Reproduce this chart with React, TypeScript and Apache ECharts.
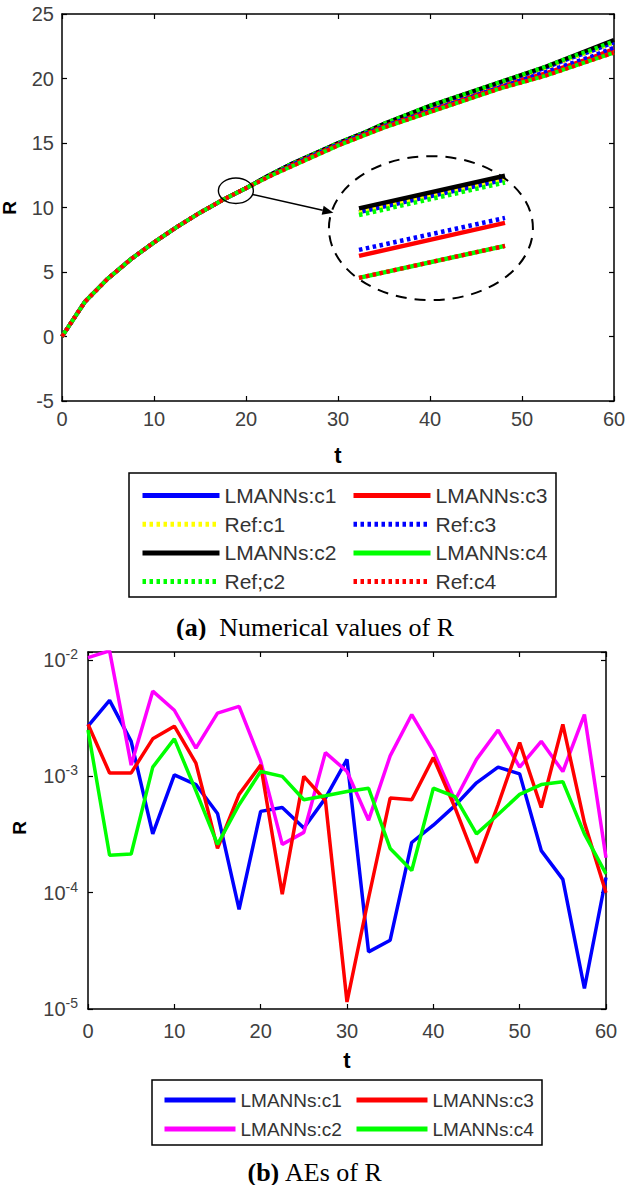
import React, { useEffect, useRef } from "react";
import * as echarts from "echarts";

// ---------- data: panel (a) numerical values of R ----------
const tTop = [0, 2.5, 5, 7.5, 10, 12.5, 15, 17.5, 20, 22.5, 25, 27.5, 30, 32.5, 35, 37.5, 40, 42.5, 45, 47.5, 50, 52.5, 55, 57.5, 60];
const lmC1 = [0, 2.7, 4.5, 6.0, 7.3, 8.5, 9.6, 10.6, 11.5, 12.5, 13.4, 14.2, 15.0, 15.7, 16.4, 17.1, 17.8, 18.4, 19.0, 19.6, 20.2, 20.8, 21.5, 22.1, 22.8];
const refC1 = [0, 2.7, 4.5, 6.0, 7.3, 8.5, 9.6, 10.6, 11.5, 12.5, 13.4, 14.2, 15.0, 15.7, 16.4, 17.1, 17.8, 18.4, 19.0, 19.6, 20.2, 20.8, 21.5, 22.1, 22.8];
const lmC2 = [0, 2.7, 4.5, 6.0, 7.3, 8.5, 9.6, 10.6, 11.5, 12.5, 13.4, 14.2, 15.0, 15.7, 16.5, 17.2, 17.9, 18.5, 19.1, 19.7, 20.3, 20.9, 21.6, 22.3, 23.0];
const refC2 = [0, 2.7, 4.5, 6.0, 7.3, 8.5, 9.6, 10.6, 11.5, 12.5, 13.4, 14.2, 15.0, 15.7, 16.5, 17.2, 17.9, 18.5, 19.1, 19.7, 20.3, 20.9, 21.6, 22.2, 22.9];
const lmC3 = [0, 2.7, 4.5, 6.0, 7.3, 8.5, 9.6, 10.6, 11.5, 12.4, 13.3, 14.1, 14.9, 15.6, 16.3, 16.9, 17.5, 18.1, 18.7, 19.3, 19.9, 20.4, 21.0, 21.6, 22.3];
const refC3 = [0, 2.7, 4.5, 6.0, 7.3, 8.5, 9.6, 10.6, 11.5, 12.4, 13.3, 14.1, 14.9, 15.6, 16.3, 16.9, 17.5, 18.1, 18.7, 19.3, 19.9, 20.5, 21.1, 21.7, 22.4];
const lmC4 = [0, 2.7, 4.5, 6.0, 7.3, 8.5, 9.6, 10.6, 11.5, 12.4, 13.2, 14.0, 14.8, 15.5, 16.2, 16.8, 17.4, 18.0, 18.6, 19.2, 19.7, 20.2, 20.8, 21.4, 22.0];
const refC4 = [0, 2.7, 4.5, 6.0, 7.3, 8.5, 9.6, 10.6, 11.5, 12.4, 13.2, 14.0, 14.8, 15.5, 16.2, 16.8, 17.4, 18.0, 18.6, 19.2, 19.7, 20.2, 20.8, 21.4, 22.0];

// zoomed inset (around t ~ 19)
const insetT = [18.7, 19.3];
const insetLmC1 = [11.18, 11.35];
const insetRefC1 = [11.18, 11.35];
const insetLmC2 = [11.2, 11.37];
const insetRefC2 = [11.165, 11.335];
const insetLmC3 = [10.952, 11.124];
const insetRefC3 = [10.983, 11.15];
const insetLmC4 = [10.837, 11.004];
const insetRefC4 = [10.837, 11.004];

// ---------- data: panel (b) absolute errors of R ----------
const tBottom = [0, 2.5, 5, 7.5, 10, 12.5, 15, 17.5, 20, 22.5, 25, 27.5, 30, 32.5, 35, 37.5, 40, 42.5, 45, 47.5, 50, 52.5, 55, 57.5, 60];
const aeC1 = [2.7e-3, 4.5e-3, 2.0e-3, 3.2e-4, 1.03e-3, 8.5e-4, 4.8e-4, 7.2e-5, 5.0e-4, 5.4e-4, 3.6e-4, 6.5e-4, 1.4e-3, 3.1e-5, 3.9e-5, 2.7e-4, 3.8e-4, 5.6e-4, 8.8e-4, 1.2e-3, 1.05e-3, 2.3e-4, 1.3e-4, 1.5e-5, 1.35e-4];
const aeC2 = [1.05e-2, 1.2e-2, 1.25e-3, 5.4e-3, 3.7e-3, 1.75e-3, 3.5e-3, 4.0e-3, 1.35e-3, 2.6e-4, 3.3e-4, 1.6e-3, 1.1e-3, 4.2e-4, 1.5e-3, 3.4e-3, 1.65e-3, 6.2e-4, 1.4e-3, 2.5e-3, 1.2e-3, 2.0e-3, 1.1e-3, 3.4e-3, 2.0e-4];
const aeC3 = [2.8e-3, 1.07e-3, 1.07e-3, 2.1e-3, 2.7e-3, 1.3e-3, 2.4e-4, 7.0e-4, 1.25e-3, 9.7e-5, 1.0e-3, 6.2e-4, 1.15e-5, 9.0e-5, 6.5e-4, 6.3e-4, 1.45e-3, 5.4e-4, 1.8e-4, 5.7e-4, 1.95e-3, 5.4e-4, 2.8e-3, 4.0e-4, 1.0e-4];
const aeC4 = [2.5e-3, 2.1e-4, 2.15e-4, 1.2e-3, 2.1e-3, 7.5e-4, 2.6e-4, 5.7e-4, 1.1e-3, 1.0e-3, 6.3e-4, 6.8e-4, 7.4e-4, 7.9e-4, 2.4e-4, 1.55e-4, 7.9e-4, 6.7e-4, 3.2e-4, 4.7e-4, 7.0e-4, 8.5e-4, 9.0e-4, 3.2e-4, 1.45e-4];

const SANS = "Liberation Sans, Arial, Helvetica, sans-serif";
const SERIF = "Liberation Serif, Times New Roman, serif";
const TICK_COLOR = "#404040";

const pairs = (t: number[], v: number[]) => t.map((x, i) => [x, v[i]]);

const axisLine = { show: true, onZero: false, lineStyle: { color: "#000", width: 1.5 } };
const tickIn = { show: true, inside: true, length: 5, lineStyle: { color: "#000", width: 1.2 } };

function lineSeries(name: string, color: string, t: number[], v: number[], dotted: boolean, xi: number, yi: number, width: number) {
  return {
    type: "line",
    name,
    data: pairs(t, v),
    xAxisIndex: xi,
    yAxisIndex: yi,
    symbol: "none",
    showSymbol: false,
    clip: true,
    lineStyle: { color, width, type: dotted ? [3.5, 3.5] : "solid", cap: "butt" },
    itemStyle: { color },
    emphasis: { disabled: true },
  };
}

function TopChart() {
  const ref = useRef<HTMLDivElement>(null);
  useEffect(() => {
    const chart = echarts.init(ref.current!, null, { renderer: "svg" });
    const W = 4;
    const series = [
      lineSeries("LMANNs:c1", "#0000ff", tTop, lmC1, false, 0, 0, W),
      lineSeries("Ref:c1", "#ffff00", tTop, refC1, true, 0, 0, W),
      lineSeries("LMANNs:c2", "#000000", tTop, lmC2, false, 0, 0, W),
      lineSeries("Ref;c2", "#00ff00", tTop, refC2, true, 0, 0, W),
      lineSeries("LMANNs:c3", "#ff0000", tTop, lmC3, false, 0, 0, W),
      lineSeries("Ref:c3", "#0000ff", tTop, refC3, true, 0, 0, W),
      lineSeries("LMANNs:c4", "#00ff00", tTop, lmC4, false, 0, 0, W),
      lineSeries("Ref:c4", "#ff0000", tTop, refC4, true, 0, 0, W),
      lineSeries("LMANNs:c1", "#0000ff", insetT, insetLmC1, false, 2, 2, 4.5),
      lineSeries("Ref:c1", "#ffff00", insetT, insetRefC1, true, 2, 2, 4.5),
      lineSeries("LMANNs:c2", "#000000", insetT, insetLmC2, false, 2, 2, 4.5),
      lineSeries("Ref;c2", "#00ff00", insetT, insetRefC2, true, 2, 2, 4.5),
      lineSeries("LMANNs:c3", "#ff0000", insetT, insetLmC3, false, 2, 2, 4.5),
      lineSeries("Ref:c3", "#0000ff", insetT, insetRefC3, true, 2, 2, 4.5),
      lineSeries("LMANNs:c4", "#00ff00", insetT, insetLmC4, false, 2, 2, 4.5),
      lineSeries("Ref:c4", "#ff0000", insetT, insetRefC4, true, 2, 2, 4.5),
    ];
    const legendCommon = {
      orient: "vertical",
      top: 485,
      padding: 0,
      itemWidth: 77,
      itemHeight: 20,
      itemGap: 7.7,
      selectedMode: false,
      lineStyle: { width: 5 },
      itemStyle: { opacity: 0 },
      textStyle: { fontFamily: SANS, fontSize: 21, color: "#333", lineHeight: 20 },
    };
    chart.setOption({
      animation: false,
      backgroundColor: "#fff",
      grid: [
        { left: 62, top: 14, width: 552, height: 387 },
        { left: 359, top: 170, width: 146, height: 115 },
      ],
      xAxis: [
        { type: "value", gridIndex: 0, min: 0, max: 60, interval: 10, axisLine, axisTick: tickIn, splitLine: { show: false },
          axisLabel: { color: TICK_COLOR, fontSize: 20, fontFamily: SANS, margin: 8 } },
        { type: "value", gridIndex: 0, position: "top", min: 0, max: 60, interval: 10, axisLine, axisTick: tickIn, splitLine: { show: false }, axisLabel: { show: false } },
        { type: "value", gridIndex: 1, min: insetT[0], max: insetT[1], show: false },
      ],
      yAxis: [
        { type: "value", gridIndex: 0, min: -5, max: 25, interval: 5, axisLine, axisTick: tickIn, splitLine: { show: false },
          axisLabel: { color: TICK_COLOR, fontSize: 20, fontFamily: SANS, margin: 8 } },
        { type: "value", gridIndex: 0, position: "right", min: -5, max: 25, interval: 5, axisLine, axisTick: tickIn, splitLine: { show: false }, axisLabel: { show: false } },
        { type: "value", gridIndex: 1, min: 10.8, max: 11.4, show: false },
      ],
      legend: [
        { ...legendCommon, left: 140, data: ["LMANNs:c1", "Ref:c1", "LMANNs:c2", "Ref;c2"] },
        { ...legendCommon, left: 351, data: ["LMANNs:c3", "Ref:c3", "LMANNs:c4", "Ref:c4"] },
      ],
      series,
    });

    const c = chart.convertToPixel({ gridIndex: 0 }, [18.9, 11.3]) as number[];
    const e = chart.convertToPixel({ gridIndex: 0 }, [29.5, 9.6]) as number[];
    const b = chart.convertToPixel({ gridIndex: 0 }, [40.1, 8.4]) as number[];
    const srx = 17.5, sry = 12.7;
    const ang = Math.atan2(e[1] - c[1], e[0] - c[0]);
    const ux = Math.cos(ang), uy = Math.sin(ang);
    const k = 1 / Math.sqrt((ux / srx) ** 2 + (uy / sry) ** 2);
    const s = [c[0] + k * ux, c[1] + k * uy];
    const headLen = 11, headW = 4.5;
    const base = [e[0] - ux * headLen, e[1] - uy * headLen];

    chart.setOption({
      graphic: [
        { type: "ellipse", z: 100, shape: { cx: c[0], cy: c[1], rx: srx, ry: sry }, style: { fill: "none", stroke: "#000", lineWidth: 1.4 } },
        { type: "line", z: 100, shape: { x1: s[0], y1: s[1], x2: base[0], y2: base[1] }, style: { stroke: "#000", lineWidth: 1.6 } },
        { type: "polygon", z: 100, shape: { points: [[e[0], e[1]], [base[0] - uy * headW, base[1] + ux * headW], [base[0] + uy * headW, base[1] - ux * headW]] }, style: { fill: "#000" } },
        { type: "ellipse", z: 100, shape: { cx: b[0], cy: b[1], rx: 102, ry: 72 }, style: { fill: "none", stroke: "#000", lineWidth: 2, lineDash: [11, 8] } },
        { type: "rect", z: 100, shape: { x: 129, y: 473, width: 427, height: 124 }, style: { fill: "none", stroke: "#000", lineWidth: 1.5 } },
        { type: "text", z: 100, x: 9, y: 208, rotation: Math.PI / 2, style: { text: "R", fontFamily: SANS, fontWeight: "bold", fontSize: 19, fill: "#000", align: "center", verticalAlign: "middle" } },
        { type: "text", z: 100, x: 338, y: 455, style: { text: "t", fontFamily: SANS, fontWeight: "bold", fontSize: 22, fill: "#000", align: "center", verticalAlign: "middle" } },
        { type: "text", z: 100, x: 315, y: 627, style: {
          text: "{b|(a)}  Numerical values of R", fontFamily: SERIF, fontSize: 26, fill: "#000", align: "center", verticalAlign: "middle",
          rich: { b: { fontFamily: SERIF, fontSize: 26, fontWeight: "bold", fill: "#000" } } } },
      ],
    });
    return () => chart.dispose();
  }, []);
  return <div ref={ref} style={{ position: "absolute", left: 0, top: 0, width: 629, height: 640 }} />;
}

function BottomChart() {
  const ref = useRef<HTMLDivElement>(null);
  useEffect(() => {
    const chart = echarts.init(ref.current!, null, { renderer: "svg" });
    const W = 3.5;
    const yMin = 1e-5, yMax = 0.01172;
    const logLabel = (v: number) => {
      const ex = Math.log10(v);
      const r = Math.round(ex);
      if (Math.abs(ex - r) > 1e-6) return "";
      return `{b|10}{s|${r}}`;
    };
    const legendCommon = {
      orient: "vertical",
      top: 450,
      padding: 0,
      itemWidth: 71,
      itemHeight: 20,
      itemGap: 9,
      selectedMode: false,
      lineStyle: { width: 5 },
      itemStyle: { opacity: 0 },
      textStyle: { fontFamily: SANS, fontSize: 19, color: "#333", lineHeight: 20 },
    };
    chart.setOption({
      animation: false,
      backgroundColor: "#fff",
      grid: { left: 88, top: 12, width: 518, height: 357 },
      xAxis: [
        { type: "value", min: 0, max: 60, interval: 10, axisLine, axisTick: tickIn, splitLine: { show: false },
          axisLabel: { color: TICK_COLOR, fontSize: 20, fontFamily: SANS, margin: 12 } },
        { type: "value", position: "top", min: 0, max: 60, interval: 10, axisLine, axisTick: tickIn, splitLine: { show: false }, axisLabel: { show: false } },
      ],
      yAxis: [
        { type: "log", logBase: 10, min: yMin, max: yMax, axisLine, axisTick: tickIn, splitLine: { show: false }, minorTick: { show: false },
          axisLabel: {
            formatter: logLabel, margin: 10,
            rich: {
              b: { fontFamily: SANS, fontSize: 20, color: TICK_COLOR, lineHeight: 26 },
              s: { fontFamily: SANS, fontSize: 14, color: TICK_COLOR, lineHeight: 14, verticalAlign: "top" },
            },
          } },
        { type: "log", logBase: 10, position: "right", min: yMin, max: yMax, axisLine, axisTick: tickIn, splitLine: { show: false }, axisLabel: { show: false } },
      ],
      legend: [
        { ...legendCommon, left: 162, data: ["LMANNs:c1", "LMANNs:c2"] },
        { ...legendCommon, left: 354, data: ["LMANNs:c3", "LMANNs:c4"] },
      ],
      series: [
        lineSeries("LMANNs:c1", "#0000ff", tBottom, aeC1, false, 0, 0, W),
        lineSeries("LMANNs:c2", "#ff00ff", tBottom, aeC2, false, 0, 0, W),
        lineSeries("LMANNs:c3", "#ff0000", tBottom, aeC3, false, 0, 0, W),
        lineSeries("LMANNs:c4", "#00ff00", tBottom, aeC4, false, 0, 0, W),
      ],
      graphic: [
        { type: "rect", z: 100, shape: { x: 152, y: 440, width: 390, height: 65 }, style: { fill: "none", stroke: "#000", lineWidth: 1.5 } },
        { type: "text", z: 100, x: 19, y: 188, rotation: Math.PI / 2, style: { text: "R", fontFamily: SANS, fontWeight: "bold", fontSize: 19, fill: "#000", align: "center", verticalAlign: "middle" } },
        { type: "text", z: 100, x: 347, y: 420, style: { text: "t", fontFamily: SANS, fontWeight: "bold", fontSize: 22, fill: "#000", align: "center", verticalAlign: "middle" } },
        { type: "text", z: 100, x: 315, y: 532, style: {
          text: "{b|(b)} AEs of R", fontFamily: SERIF, fontSize: 26, fill: "#000", align: "center", verticalAlign: "middle",
          rich: { b: { fontFamily: SERIF, fontSize: 26, fontWeight: "bold", fill: "#000" } } } },
      ],
    });
    return () => chart.dispose();
  }, []);
  return <div ref={ref} style={{ position: "absolute", left: 0, top: 640, width: 629, height: 545 }} />;
}

export default function App() {
  return (
    <div style={{ position: "absolute", left: 0, top: 0, width: 629, height: 1185, background: "#fff" }}>
      <TopChart />
      <BottomChart />
    </div>
  );
}
